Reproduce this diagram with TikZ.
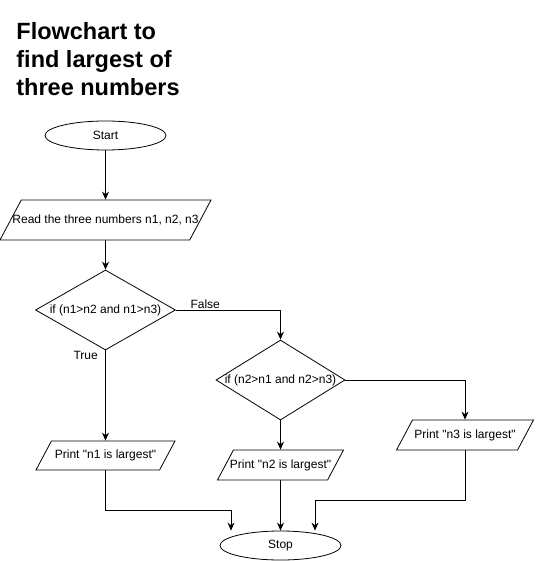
\documentclass[tikz,border=0pt]{standalone}
\usepackage{fontspec}
\setmainfont{Liberation Sans}[Ligatures=TeXOff]
\usetikzlibrary{arrows.meta, calc, positioning, shapes.geometric}
\tikzset
{%
terminal/.style={draw, ellipse, inner sep=0pt, minimum width=121pt, minimum height=29pt},
io/.style={draw, trapezium, trapezium left angle=62, trapezium right angle=118, trapezium stretches body, inner xsep=0pt, text height=8.5pt, text depth=2.5pt, inner ysep=9.5pt},
decision/.style={draw, diamond, inner sep=0pt, minimum height=80pt},
spill/.style={execute at begin node={\hbox to 0pt\bgroup\hss}, execute at end node={\hss\egroup}},
flow/.style={-{Stealth[length=8pt, width=7pt]}}
}
\begin{document}
\begin{tikzpicture}[x=1pt, y=-1pt, line width=0.8pt, font=\fontsize{12}{14}\selectfont]
	\useasboundingbox (0,0) rectangle (536,561);
	
	%Title
	\node[anchor=north west, inner sep=0pt, align=left, font=\fontsize{23.5}{28}\selectfont\bfseries] (title) at (16,22.5) {Flowchart to\\find largest of\\three numbers};
	
	% LEFT COLUMN
	\node[terminal] (start) at (105.5,135.5) {Start};
	\node[io, spill, minimum width=211pt, inner ysep=14.5pt] (read) at (105.5,220) {Read the three numbers n1, n2, n3};
	\node[decision, spill, minimum width=140pt] (d1) at (105.5,310) {if (n1>n2 and n1>n3)};
	\node[io, spill, minimum width=139pt, inner ysep=9pt] (p1) at (105.5,455.5) {Print "n1 is largest"};
	
	% MIDDLE COLUMN
	\node[decision, spill, minimum width=129pt] (d2) at (280.5,380) {if (n2>n1 and n2>n3)};
	\node[io, spill, minimum width=126pt] (p2) at (280.5,465) {Print "n2 is largest"};
	\node[terminal] (stop) at (280.5,545.5) {Stop};
	
	% RIGHT COLUMN
	\node[io, spill, minimum width=137pt] (p3) at (465,435) {Print "n3 is largest"};
	
	\coordinate (j1) at (231,510);
	\coordinate (j3) at (315,500);
	
	\path[flow] (start) edge (read)
	(read) edge (d1)
	(d1) edge node[pos=0.06, left=4pt] {True} (p1)
	(d2) edge (p2)
	(p2) edge (stop);
	\draw[flow] (d1.east) -| node[pos=0.14, above, inner sep=1pt] {False} (d2);
	\draw[flow] (d2.east) -| (p3);
	\draw[flow] (p1) |- (j1) -- (j1 |- stop.north);
	\draw[flow] (p3) |- (j3) -- (j3 |- stop.north);
\end{tikzpicture}
\end{document}
